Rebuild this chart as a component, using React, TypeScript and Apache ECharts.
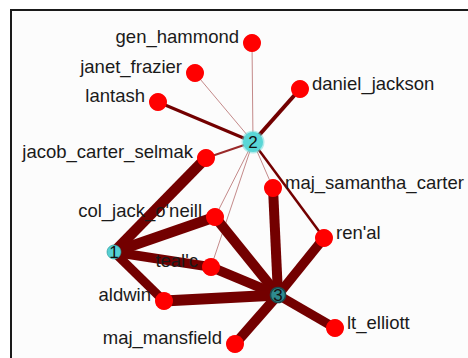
import React, { useEffect, useRef } from "react";
import * as echarts from "echarts";

// Nodes (layout coordinates in the original diagram's units)
const nodeNames = [
  "gen_hammond", "janet_frazier", "lantash", "daniel_jackson", "2",
  "jacob_carter_selmak", "maj_samantha_carter", "col_jack_o'neill", "ren'al", "1",
  "teal'c", "aldwin", "3", "lt_elliott", "maj_mansfield",
];
const nodeX = [252, 195, 158, 300, 253, 206, 273, 215, 324, 114, 211, 164, 278, 335, 235];
const nodeY = [43, 73, 102, 89, 142, 158, 188, 217, 238, 252, 267, 301, 295, 328, 344];
const nodeKind = ["agent", "agent", "agent", "agent", "group2", "agent", "agent", "agent", "agent", "group1", "agent", "agent", "group3", "agent", "agent"];
const labelSide = ["left", "left", "left", "right", "inside", "left", "right", "left", "right", "inside", "left", "left", "inside", "right", "left"];

// Links
const linkSource = ["2", "2", "2", "2", "2", "2", "2", "2", "2", "1", "1", "1", "1", "3", "3", "3", "3", "3", "3", "3"];
const linkTarget = [
  "gen_hammond", "janet_frazier", "lantash", "daniel_jackson", "jacob_carter_selmak",
  "col_jack_o'neill", "teal'c", "maj_samantha_carter", "ren'al",
  "jacob_carter_selmak", "col_jack_o'neill", "teal'c", "aldwin",
  "col_jack_o'neill", "teal'c", "aldwin", "maj_samantha_carter", "ren'al", "lt_elliott", "maj_mansfield",
];
const linkWeight = [1, 1, 3, 4, 2, 1, 1, 1, 2.5, 10.5, 10.5, 9.5, 9, 10, 10, 11, 10, 9.5, 9, 10];

const FONT = "'Liberation Sans', Arial, sans-serif";

function edgeColor(w: number) {
  if (w <= 1) return "#c48a8a";
  if (w <= 2) return "#9a2a2a";
  return "#730000";
}

function nodeStyle(kind: string) {
  if (kind === "group2")
    return { size: 20, itemStyle: { color: "#5ad6d6", borderColor: "rgba(90,214,214,0.45)", borderWidth: 3 } };
  if (kind === "group1")
    return { size: 14, itemStyle: { color: "#55cfd2", borderColor: "rgba(40,150,150,0.6)", borderWidth: 1 } };
  if (kind === "group3")
    return { size: 15, itemStyle: { color: "#2e8a8e", borderColor: "#1c4a4e", borderWidth: 1.5 } };
  return { size: 18, itemStyle: { color: "#ff0000", borderWidth: 0 } };
}

export default function App() {
  const ref = useRef<HTMLDivElement>(null);
  useEffect(() => {
    if (!ref.current) return;
    const chart = echarts.init(ref.current, undefined, { renderer: "svg" });

    const data = nodeNames.map((name, i) => {
      const ns = nodeStyle(nodeKind[i]);
      const side = labelSide[i];
      const label =
        side === "inside"
          ? { show: true, position: "inside", fontSize: 17, color: "#111", fontFamily: FONT }
          : side === "left"
          ? { show: true, position: "left", distance: 4, offset: [0, -7], fontSize: 18.5, color: "#1a1a1a", fontFamily: FONT }
          : { show: true, position: "right", distance: 3, offset: [0, -6], fontSize: 18.5, color: "#1a1a1a", fontFamily: FONT };
      return {
        name,
        value: [nodeX[i], nodeY[i]],
        symbolSize: ns.size,
        itemStyle: ns.itemStyle,
        label,
      };
    });

    const links = linkSource.map((s, i) => ({
      source: s,
      target: linkTarget[i],
      lineStyle: { width: linkWeight[i], color: edgeColor(linkWeight[i]), opacity: 1, curveness: 0 },
    }));

    chart.setOption({
      animation: false,
      backgroundColor: "#ffffff",
      grid: { left: 0, right: 0, top: 0, bottom: 0 },
      xAxis: { type: "value", min: 0, max: 468, show: false },
      yAxis: { type: "value", min: 0, max: 358, inverse: true, show: false },
      graphic: [
        {
          type: "rect",
          z: -10,
          silent: true,
          shape: { x: 11, y: 10, width: 480, height: 380 },
          style: { fill: "#fcfcfc", stroke: "#1a1a1a", lineWidth: 2 },
        },
      ],
      series: [
        {
          type: "graph",
          coordinateSystem: "cartesian2d",
          layout: "none",
          symbol: "circle",
          z: 5,
          data,
          links,
          emphasis: { disabled: true },
        },
      ],
    });
    return () => chart.dispose();
  }, []);
  return <div ref={ref} style={{ position: "absolute", left: 0, top: 0, width: 468, height: 358 }} />;
}
